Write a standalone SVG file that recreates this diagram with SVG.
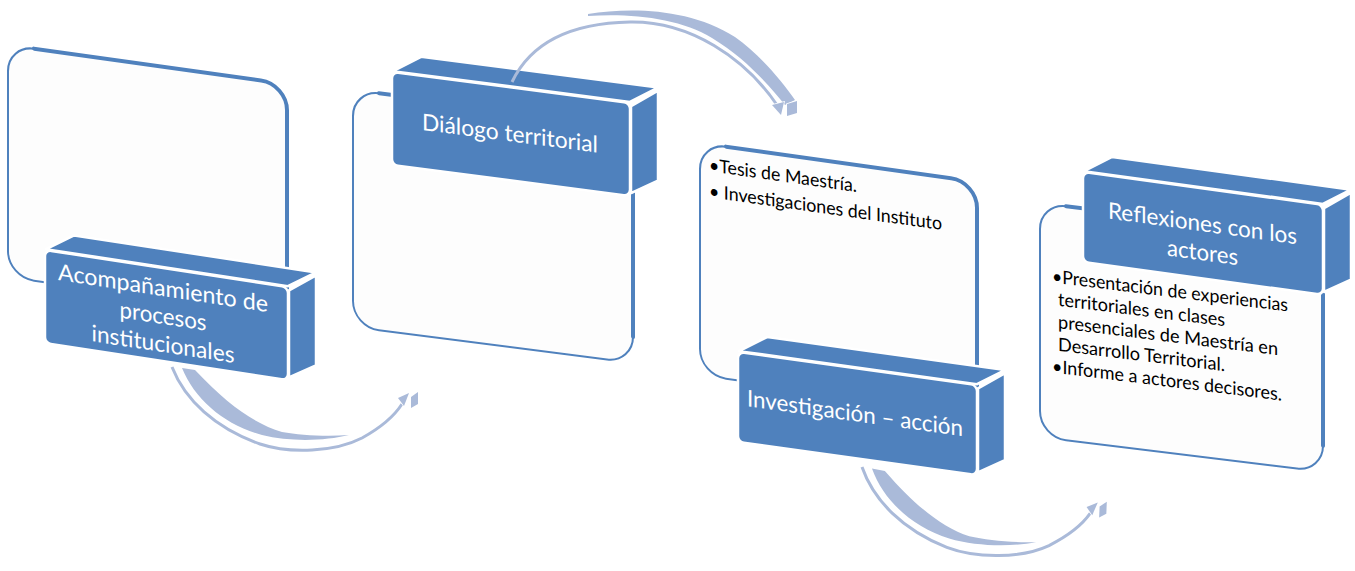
<svg xmlns="http://www.w3.org/2000/svg" width="1355" height="571" viewBox="0 0 1355 571">
<style>
.card{fill:#fdfdfd;stroke:#4f81bd;stroke-width:2}
.edge{fill:none;stroke:#4f81bd;stroke-width:4;stroke-linecap:round}
.face{fill:#4f81bd;stroke:#ffffff;stroke-width:2.5;stroke-linejoin:round}
.lbl{fill:#ffffff;font-family:Lato,"Liberation Sans",sans-serif;font-size:23px;text-anchor:middle}
.txt{fill:#000000;font-family:Lato,"Liberation Sans",sans-serif;font-size:18.5px}
.arw{fill:#aabad9;stroke:#ffffff;stroke-width:1.5;paint-order:stroke}
.arl{fill:none;stroke:#aabad9;stroke-width:3}
</style>
<rect width="1355" height="571" fill="#ffffff"/>

<g id="node1">
  <g transform="translate(8,45) skewY(8)">
    <rect class="card" x="0" y="0" width="279" height="232" rx="26"/>
    <path class="edge" d="M26,0 H253 A26,26 0 0 1 279,26 V206"/>
  </g>
  <g transform="translate(45,250) skewY(8.7)">
    <polygon class="face" points="1,-1 29,-19 271,-19 243,-1"/>
    <polygon class="face" points="244,3 271,-16 271,74 244,90"/>
    <rect class="face" x="0" y="0" width="243" height="93" rx="6"/>
    <text class="lbl" x="118" y="28" textLength="210" lengthAdjust="spacingAndGlyphs">Acompañamiento de</text>
    <text class="lbl" x="118" y="56" textLength="87" lengthAdjust="spacingAndGlyphs">procesos</text>
    <text class="lbl" x="118" y="84" textLength="143" lengthAdjust="spacingAndGlyphs">institucionales</text>
  </g>
</g>

<g id="node2">
  <g transform="translate(353,90) skewY(7.3)">
    <rect class="card" x="0" y="0" width="280" height="237" rx="26"/>
    <path class="edge" d="M26,0 H254 A26,26 0 0 1 280,26 V211"/>
  </g>
  <g transform="translate(392,72) skewY(7.4)">
    <polygon class="face" points="1,-1 29,-19 266,-19 238,-1"/>
    <polygon class="face" points="239,3 266,-16 266,74 239,90"/>
    <rect class="face" x="0" y="0" width="238" height="93" rx="6"/>
    <text class="lbl" x="118" y="54" textLength="176" lengthAdjust="spacingAndGlyphs">Diálogo territorial</text>
  </g>
</g>

<g id="node3">
  <g transform="translate(700,143) skewY(8)">
    <rect class="card" x="0" y="0" width="277" height="232" rx="26"/>
    <path class="edge" d="M26,0 H251 A26,26 0 0 1 277,26 V206"/>
    <text class="txt" x="9" y="27" textLength="148" lengthAdjust="spacingAndGlyphs">•Tesis de Maestría.</text>
    <text class="txt" x="9" y="53" textLength="233" lengthAdjust="spacingAndGlyphs">• Investigaciones del Instituto</text>
  </g>
  <g transform="translate(738,352) skewY(7.9)">
    <polygon class="face" points="1,-1 29,-19 267,-19 239,-1"/>
    <polygon class="face" points="240,3 267,-16 267,71 240,87"/>
    <rect class="face" x="0" y="0" width="239" height="90" rx="6"/>
    <text class="lbl" x="117" y="53" textLength="216" lengthAdjust="spacingAndGlyphs">Investigación – acción</text>
  </g>
</g>

<g id="node4">
  <g transform="translate(1040,203) skewY(7)">
    <rect class="card" x="0" y="0" width="283" height="234" rx="26"/>
    <path class="edge" d="M26,0 H257 A26,26 0 0 1 283,26 V208"/>
    <text class="txt" x="12" y="78" textLength="236" lengthAdjust="spacingAndGlyphs">•Presentación de experiencias</text>
    <text class="txt" x="18" y="100.5" textLength="167" lengthAdjust="spacingAndGlyphs">territoriales en clases</text>
    <text class="txt" x="18" y="123" textLength="220" lengthAdjust="spacingAndGlyphs">presenciales de Maestría en</text>
    <text class="txt" x="18" y="145.5" textLength="167" lengthAdjust="spacingAndGlyphs">Desarrollo Territorial.</text>
    <text class="txt" x="12" y="168" textLength="230" lengthAdjust="spacingAndGlyphs">•Informe a actores decisores.</text>
  </g>
  <g transform="translate(1083,172) skewY(7.8)">
    <polygon class="face" points="1,-1 29,-19 268,-19 240,-1"/>
    <polygon class="face" points="241,3 268,-16 268,71 241,87"/>
    <rect class="face" x="0" y="0" width="240" height="90" rx="6"/>
    <text class="lbl" x="119.5" y="43" textLength="189" lengthAdjust="spacingAndGlyphs">Reflexiones con los</text>
    <text class="lbl" x="119.5" y="72" textLength="71" lengthAdjust="spacingAndGlyphs">actores</text>
  </g>
</g>

<g id="connectors">
  <g id="arrow1">
    <path class="arl" d="M172,367 C185,400 215,428 260,444 C290,454 335,452 362,438 C380,428 395,415 402,404"/>
    <path class="arw" d="M182,368 C195,400 225,425 262,435 C290,442 325,441 349,435 C325,437 300,435 282,432 C255,424 228,405 195,370 Z"/>
    <polygon class="arw" points="398,398 409,393 404,406"/>
    <polygon class="arw" points="411,397 418,392 418,404 411,408"/>
  </g>
  <g id="arrow2">
    <path class="arl" d="M512,82 C532,40 575,23 630,22 C690,21 745,58 777,105"/>
    <path class="arw" d="M588,14 C630,7 690,8 735,37 C760,55 781,80 795,100 L785,105 C768,84 745,58 712,38 C680,18 630,13 588,16 Z"/>
    <polygon class="arw" points="772,105 784,102 781,115"/>
    <polygon class="arw" points="787,104 797,101 797,113 787,116"/>
  </g>
  <g id="arrow3" transform="translate(690,100) rotate(2.3 172 367)">
    <path class="arl" d="M172,367 C185,400 215,428 260,444 C290,454 335,452 362,438 C380,428 395,415 402,404"/>
    <path class="arw" d="M182,368 C195,400 225,425 262,435 C290,442 325,441 349,435 C325,437 300,435 282,432 C255,424 228,405 195,370 Z"/>
    <polygon class="arw" points="398,398 409,393 404,406"/>
    <polygon class="arw" points="411,397 418,392 418,404 411,408"/>
  </g>
</g>
</svg>
